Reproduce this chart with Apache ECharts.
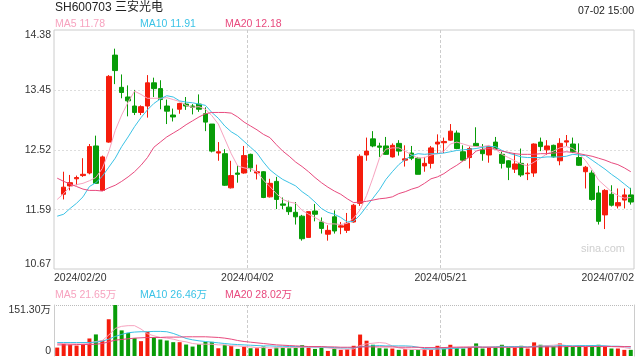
<!DOCTYPE html>
<html><head><meta charset="utf-8">
<script src="https://cdn.jsdelivr.net/npm/echarts@6/dist/echarts.min.js"></script>
<style>html,body{margin:0;padding:0;background:#fff}#c{width:640px;height:360px}</style>
</head><body><div id="c"></div>
<script>
const dates = ['2024/02/20','2024/02/21','2024/02/22','2024/02/23','2024/02/26','2024/02/27','2024/02/28','2024/02/29',
'2024/03/01','2024/03/04','2024/03/05','2024/03/06','2024/03/07','2024/03/08','2024/03/11','2024/03/12','2024/03/13','2024/03/14','2024/03/15',
'2024/03/18','2024/03/19','2024/03/20','2024/03/21','2024/03/22','2024/03/25','2024/03/26','2024/03/27','2024/03/28','2024/03/29',
'2024/04/01','2024/04/02','2024/04/03','2024/04/08','2024/04/09','2024/04/10','2024/04/11','2024/04/12','2024/04/15','2024/04/16','2024/04/17','2024/04/18','2024/04/19',
'2024/04/22','2024/04/23','2024/04/24','2024/04/25','2024/04/26','2024/04/29','2024/04/30',
'2024/05/06','2024/05/07','2024/05/08','2024/05/09','2024/05/10','2024/05/13','2024/05/14','2024/05/15','2024/05/16','2024/05/17',
'2024/05/20','2024/05/21','2024/05/22','2024/05/23','2024/05/24','2024/05/27','2024/05/28','2024/05/29','2024/05/30','2024/05/31',
'2024/06/03','2024/06/04','2024/06/05','2024/06/06','2024/06/07','2024/06/11','2024/06/12','2024/06/13','2024/06/14',
'2024/06/17','2024/06/18','2024/06/19','2024/06/20','2024/06/21','2024/06/24','2024/06/25','2024/06/26','2024/06/27','2024/06/28',
'2024/07/01','2024/07/02'];

const opens = [null,
11.83,11.96,12.07,12.12,12.16,12.58,11.89,12.64,13.99,13.49,
13.34,13.20,13.10,13.20,13.56,13.47,13.20,13.06,13.15,13.23,
13.20,13.23,13.08,12.92,12.47,12.46,11.93,12.16,12.16,12.45,
12.16,12.18,11.79,12.03,11.68,11.63,11.55,11.49,11.16,11.57,
11.40,11.21,11.48,11.32,11.27,11.40,11.69,12.44,12.69,12.58,
12.58,12.41,12.62,12.36,12.47,12.39,12.27,12.31,12.61,12.63,
12.67,12.78,12.49,12.40,12.62,12.52,12.44,12.64,12.45,12.35,
12.22,12.31,12.15,12.16,12.64,12.52,12.59,12.35,12.64,12.61,
12.40,12.18,12.16,11.85,11.51,11.83,11.65,11.74,11.82];
const closes = [null,
11.94,12.01,12.09,12.14,12.57,12.00,12.41,13.66,13.75,13.41,
13.28,13.10,13.19,13.56,13.47,13.30,13.12,13.03,13.24,13.20,
13.18,13.15,12.95,12.50,12.49,11.97,12.12,12.14,12.43,12.24,
12.18,11.78,12.00,11.75,11.66,11.56,11.48,11.14,11.56,11.52,
11.30,11.27,11.26,11.34,11.38,11.66,12.42,12.50,12.58,12.56,
12.45,12.59,12.50,12.38,12.39,12.14,12.31,12.55,12.64,12.65,
12.81,12.54,12.36,12.54,12.58,12.46,12.57,12.54,12.31,12.25,
12.30,12.13,12.16,12.61,12.57,12.58,12.41,12.62,12.66,12.49,
12.28,12.25,11.75,11.41,11.89,11.66,11.70,11.82,11.71];
const lows = [null,
11.75,11.89,11.97,12.10,12.14,11.99,11.88,12.63,13.54,13.32,
13.04,13.06,13.06,13.02,13.34,13.15,12.92,12.96,13.08,13.14,
13.07,13.11,12.81,12.48,12.35,11.96,11.92,12.01,12.15,12.18,
12.06,11.77,11.78,11.60,11.60,11.51,11.36,11.11,11.16,11.41,
11.22,11.11,11.22,11.21,11.23,11.39,11.65,12.35,12.56,12.41,
12.44,12.40,12.43,12.26,12.36,12.14,12.18,12.23,12.46,12.47,
12.66,12.53,12.35,12.23,12.57,12.35,12.32,12.53,12.23,12.05,
12.16,12.10,12.05,12.10,12.50,12.44,12.40,12.28,12.58,12.47,
12.27,11.92,11.73,11.36,11.29,11.64,11.61,11.61,11.67];
const highs = [null,
12.18,12.13,12.12,12.39,12.61,12.74,12.43,13.68,14.09,13.69,
13.52,13.45,13.21,13.68,13.64,13.60,13.30,13.16,13.25,13.34,
13.23,13.38,13.18,12.92,12.64,12.53,12.35,12.28,12.58,12.46,
12.29,12.19,12.07,12.10,11.78,11.73,11.71,11.51,11.56,11.68,
11.47,11.35,11.58,11.40,11.54,11.68,12.45,12.71,12.81,12.63,
12.72,12.62,12.67,12.59,12.58,12.41,12.41,12.58,12.76,12.71,
12.92,12.82,12.59,12.57,12.87,12.61,12.59,12.72,12.49,12.36,
12.47,12.54,12.31,12.62,12.71,12.67,12.60,12.70,12.75,12.71,
12.62,12.27,12.20,11.96,11.91,11.97,11.92,11.92,11.93];

const ma5 = [11.75,11.84,11.95,11.98,12.00,12.04,12.09,12.23,12.49,12.82,
13.06,13.26,13.43,13.38,13.32,13.32,13.32,13.33,13.30,13.27,
13.21,13.18,13.19,13.15,13.05,12.92,12.69,12.46,12.27,12.24,
12.22,12.18,12.05,11.95,11.84,11.75,11.71,11.69,11.58,11.52,
11.47,11.41,11.37,11.37,11.36,11.38,11.46,11.59,11.81,12.09,
12.39,12.53,12.55,12.55,12.50,12.44,12.39,12.40,12.44,12.46,
12.50,12.61,12.64,12.61,12.58,12.57,12.57,12.59,12.53,12.45,
12.40,12.35,12.30,12.27,12.33,12.39,12.46,12.50,12.55,12.57,
12.54,12.46,12.35,12.21,12.05,11.96,11.87,11.81,11.77,11.78];
const ma10 = [11.49,11.52,11.61,11.69,11.79,11.95,12.01,12.11,12.25,12.39,
12.57,12.72,12.88,13.02,13.14,13.24,13.31,13.36,13.34,13.28,
13.26,13.25,13.23,13.21,13.10,13.01,12.89,12.80,12.74,12.65,
12.56,12.47,12.33,12.21,12.13,12.06,12.01,11.96,11.87,11.80,
11.71,11.61,11.55,11.52,11.47,11.40,11.41,11.51,11.64,11.77,
11.90,12.06,12.18,12.29,12.37,12.43,12.46,12.45,12.46,12.46,
12.47,12.49,12.51,12.52,12.53,12.54,12.56,12.57,12.57,12.51,
12.47,12.44,12.41,12.40,12.40,12.40,12.41,12.41,12.41,12.42,
12.45,12.44,12.43,12.36,12.29,12.22,12.14,12.07,11.99,11.91];
const ma20 = [12.08,12.03,11.99,11.95,11.91,11.89,11.89,11.88,11.93,11.97,
12.03,12.10,12.18,12.28,12.40,12.56,12.64,12.72,12.78,12.84,
12.91,12.97,13.03,13.08,13.10,13.10,13.10,13.09,13.03,12.95,
12.89,12.83,12.76,12.71,12.60,12.50,12.42,12.33,12.26,12.18,
12.09,12.01,11.94,11.88,11.83,11.76,11.70,11.71,11.72,11.74,
11.76,11.77,11.79,11.84,11.87,11.91,11.94,12.00,12.07,12.10,
12.15,12.22,12.28,12.35,12.41,12.50,12.53,12.54,12.53,12.50,
12.48,12.46,12.45,12.45,12.45,12.46,12.46,12.47,12.48,12.49,
12.48,12.46,12.44,12.42,12.39,12.36,12.32,12.29,12.24,12.18];

// volume in 万 (10k shares); 1 = red bar, -1 = green bar
const volumes = [25,36,34,31,36,52,64,46,109,151.3,
76,68,53,44,72,56,49,46,41,41,
34,28,35,42,42,23,33,30,21,28,
23,23,28,21,25,25,23,25,32,25,
21,25.2,15.1,22.2,18.2,20.2,30.3,63.6,45.4,33.3,
23.2,22.2,22.2,18.2,20.2,18.2,18.2,20.2,18.2,30.3,
25.2,33.3,23.2,22.2,27.2,37.3,22.2,25.2,25.2,33.3,
25.2,25.2,30.3,22.2,40.4,33.3,30.3,28.3,37.3,28.3,
27.2,30.3,27.2,32.3,33.3,28.3,22.2,22.2,18.2,18.2];
const volDir = [1,1,1,1,1,1,-1,1,1,-1,
-1,-1,-1,1,1,-1,-1,-1,-1,1,
-1,-1,-1,-1,-1,1,-1,1,-1,1,
-1,1,-1,1,-1,-1,-1,-1,-1,1,
-1,-1,1,-1,1,1,1,1,1,-1,
-1,-1,1,-1,1,-1,-1,1,1,1,
-1,1,-1,-1,1,-1,-1,1,-1,-1,
-1,1,-1,1,1,-1,1,-1,1,-1,
-1,-1,1,-1,-1,1,-1,1,1,-1];
const volMa5 = [37,37,36,36,35,38,43,46,62,82,
88,90,90,80,66,60,55,53,50,45,
42,37,35,35,35,33,33,30,30,28,
27,25,25,24,24,25,25,25,26,27,
26,26,24,22,21,20,21,31,36,38,
40,38,30,24,21,20,19,19,19,21,
22,25,26,27,27,29,27,27,27,29,
27,27,28,26,29,30,31,32,34,31,
30,30,30,29,30,30,28,27,25,21.65];
const volMa10 = [40,40,40,40,40,40,41,44,50,58,
64,69,71,72,72,73,73,72,67,60,
52,48,45,43,41,39,37,35,34,33,
32,31,30,30,29,29,28,28,28,27,
27,27,26,25,24,24,24,27,29,30,
31,30,30,30,30,29,26,22,21,21,
21,22,23,24,25,27,26,26,27,28,
28,28,28,27,28,29,29,29,31,31,
30,31,31,31,31,30,29,29,28,26.46];
const volMa20 = [33,33,33,34,34,34,35,37,42,47,
49,51,53,54,55,55,55,56,56,56,
57,57,57,57,56,55,53,50,46,43,
41,39,37,35,33,32,31,30,29,28,
28,28,27,27,26,26,26,27,27,27,
27,27,27,26,26,26,26,25,25,25,
25,26,26,26,26,26,26,26,26,26,
26,26,26,26,27,27,27,27,27,28,
28,28,28,28,28,28,28,28,28,28.02];

const yTicks = [10.67, 11.59, 12.52, 13.45, 14.38];
const volMax = 151.30;
const xTickStep = 30;

const UP = '#f51c0c', DOWN = '#089c08';
const C5 = '#f7a3bf', C10 = '#3bc3e6', C20 = '#e84a7e';
const FONT = 'Arial, "Liberation Sans", "Noto Sans CJK SC", sans-serif';
const TXT = '#333';

const kdata = dates.map((d, i) => opens[i] == null ? '-' : [opens[i], closes[i], lows[i], highs[i]]);
const voldata = volumes.map((v, i) => ({ value: v, itemStyle: { color: volDir[i] > 0 ? UP : DOWN } }));
const lastIdx = dates.length - 1;

const chart = echarts.init(document.getElementById('c'), null, { renderer: 'canvas' });

function lineSeries(name, data, color, xi, yi) {
  return { name, type: 'line', data, xAxisIndex: xi, yAxisIndex: yi, showSymbol: false, symbol: 'none',
    lineStyle: { color, width: 1 }, itemStyle: { color }, silent: true, z: 5 };
}
function legendText(x, y, text, color) {
  return { type: 'text', x, y, silent: true,
    style: { text, fill: color, font: '10.5px ' + FONT, verticalAlign: 'middle', align: 'left' } };
}

chart.setOption({
  animation: false,
  backgroundColor: '#fff',
  textStyle: { fontFamily: FONT },
  grid: [
    { left: 54, right: 6, top: 30, height: 239, show: true, borderColor: '#ccc', borderWidth: 1 },
    { left: 54, right: 6, top: 305, bottom: 4 }
  ],
  xAxis: [
    { type: 'category', gridIndex: 0, data: dates, show: false, boundaryGap: true },
    { type: 'value', gridIndex: 0, min: 0, max: dates.length, interval: xTickStep, position: 'bottom',
      axisLine: { show: false }, axisTick: { show: false },
      axisLabel: { color: TXT, fontSize: 10.5, margin: 4, showMinLabel: true, showMaxLabel: true,
        alignMinLabel: 'left', alignMaxLabel: 'right',
        formatter: v => dates[Math.min(v, lastIdx)] },
      splitLine: { show: true, showMinLine: false, showMaxLine: false, lineStyle: { color: '#ccc', type: [3, 2] } } },
    { type: 'category', gridIndex: 1, data: dates, show: false, boundaryGap: true },
    { type: 'value', gridIndex: 1, min: 0, max: dates.length, interval: xTickStep,
      axisLine: { show: false }, axisTick: { show: false }, axisLabel: { show: false },
      splitLine: { show: true, showMinLine: false, showMaxLine: false, lineStyle: { color: '#ccc', type: [3, 2] } } }
  ],
  yAxis: [
    { type: 'value', gridIndex: 0, min: yTicks[0], max: yTicks[yTicks.length - 1], scale: true,
      axisLine: { show: false },
      axisTick: { show: false, customValues: yTicks },
      axisLabel: { color: TXT, fontSize: 10.5, margin: 3, customValues: yTicks,
        showMinLabel: true, showMaxLabel: true,
        verticalAlignMinLabel: 'bottom', verticalAlignMaxLabel: 'top',
        formatter: v => v.toFixed(2) },
      splitLine: { show: true, showMinLine: false, showMaxLine: false, lineStyle: { color: '#ddd', type: [2, 2] } } },
    { type: 'value', gridIndex: 1, min: 0, max: volMax, interval: volMax,
      axisLine: { show: true, lineStyle: { color: '#ccc' } }, axisTick: { show: false },
      axisLabel: { color: TXT, fontSize: 10.5, margin: 3, showMinLabel: true, showMaxLabel: true,
        verticalAlignMinLabel: 'bottom', verticalAlignMaxLabel: 'top',
        formatter: v => v === 0 ? '0' : v.toFixed(2) + '万' },
      splitLine: { show: true, showMinLine: false, lineStyle: { color: '#bbb', type: [1, 1] } } },
    { type: 'value', gridIndex: 1, min: 0, max: volMax, position: 'right',
      axisLine: { show: true, lineStyle: { color: '#ccc' } }, axisTick: { show: false },
      axisLabel: { show: false }, splitLine: { show: false } }
  ],
  series: [
    { type: 'candlestick', xAxisIndex: 0, yAxisIndex: 0, data: kdata, barWidth: 5,
      itemStyle: { color: UP, color0: DOWN, borderColor: UP, borderColor0: DOWN, borderWidth: 1 }, z: 3 },
    lineSeries('MA5', ma5, C5, 0, 0),
    lineSeries('MA10', ma10, C10, 0, 0),
    lineSeries('MA20', ma20, C20, 0, 0),
    { type: 'bar', xAxisIndex: 2, yAxisIndex: 1, data: voldata, barWidth: 4, z: 3 },
    lineSeries('VMA5', volMa5, C5, 2, 1),
    lineSeries('VMA10', volMa10, C10, 2, 1),
    lineSeries('VMA20', volMa20, C20, 2, 1)
  ],
  graphic: [
    { type: 'text', x: 55, y: 8, silent: true,
      style: { text: 'SH600703 三安光电', fill: '#222', font: '12px ' + FONT, verticalAlign: 'middle' } },
    { type: 'text', x: 634, y: 11, silent: true,
      style: { text: '07-02 15:00', fill: '#222', font: '10.5px ' + FONT, verticalAlign: 'middle', align: 'right' } },
    legendText(55, 24, 'MA5 ' + ma5[lastIdx].toFixed(2), C5),
    legendText(140, 24, 'MA10 ' + ma10[lastIdx].toFixed(2), C10),
    legendText(225, 24, 'MA20 ' + ma20[lastIdx].toFixed(2), C20),
    legendText(55, 295, 'MA5 ' + volMa5[lastIdx].toFixed(2) + '万', C5),
    legendText(140, 295, 'MA10 ' + volMa10[lastIdx].toFixed(2) + '万', C10),
    legendText(225, 295, 'MA20 ' + volMa20[lastIdx].toFixed(2) + '万', C20),
    { type: 'text', x: 603, y: 249, silent: true,
      style: { text: 'sina.com', fill: '#cfcfcf', font: '11px ' + FONT, verticalAlign: 'middle', align: 'center' } }
  ]
});
</script>
</body></html>
